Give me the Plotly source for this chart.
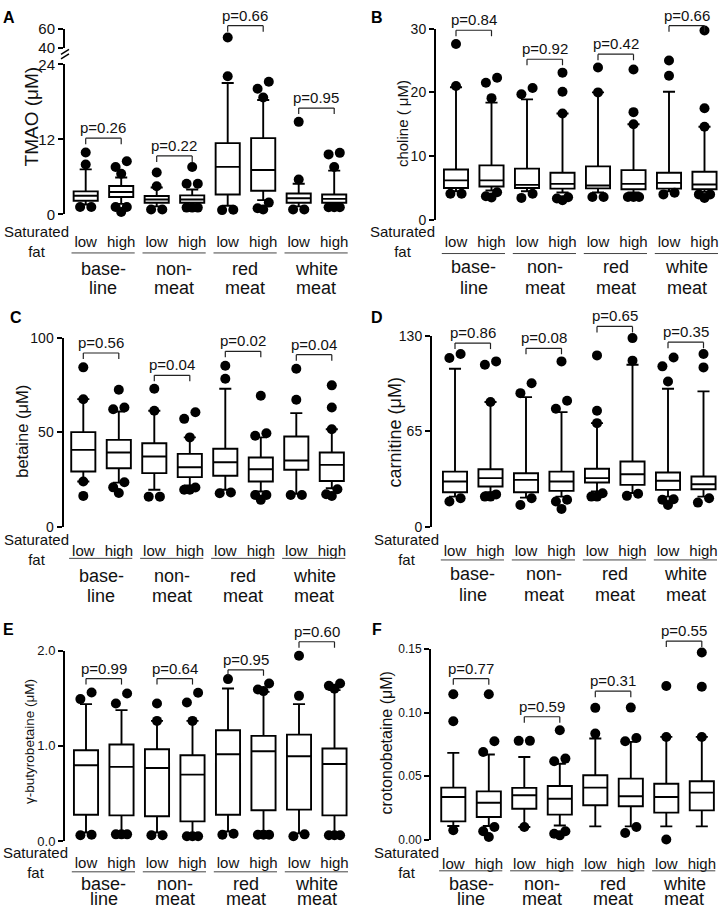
import plotly.graph_objects as go

W, H = 723, 915
FONT = "Liberation Sans, Arial, Helvetica, sans-serif"
STEP = 35.5  # px between neighbouring boxes

# the photographed page is squeezed vertically: picture_y = SQ * page_y + SQ_OFF
SQ, SQ_OFF = 0.9801, 8.09

FAT_LABELS = ["low", "high", "low", "high", "low", "high", "low", "high"]
DIET_TOP = ["base-", "non-", "red", "white"]
DIET_BOTTOM = ["line", "meat", "meat", "meat"]

# ---------------- Panel A : TMAO ----------------
A_q1 = [2.2, 2.8, 1.87, 1.87, 3.2, 3.8, 1.87, 1.87]
A_med = [3.0, 3.6, 2.4, 2.4, 7.6, 7.1, 2.6, 2.5]
A_q3 = [3.7, 4.55, 2.95, 3.05, 11.4, 12.2, 3.35, 3.2]
A_lo = [1.6, 1.7, 1.3, 1.5, 1.4, 2.3, 1.3, 1.5]
A_hi = [7.2, 5.9, 4.3, 4.0, 21.0, 18.3, 4.9, 7.0]
A_out = [[9.9, 8.0, 1.2, 1.2], [8.5, 7.6, 6.5, 1.2, 0.4, 1.2], [6.7, 4.5, 0.8, 0.8],
         [7.6, 4.9, 4.9, 1.1, 1.1, 1.1], [51.0, 22.1, 0.7, 0.75], [21.2, 20.1, 18.7, 1.9, 0.8, 1.0],
         [14.8, 5.6, 0.8, 0.8], [9.85, 9.6, 7.6, 1.15, 1.15, 1.15]]
A_p = ["p=0.26", "p=0.22", "p=0.66", "p=0.95"]
A_p_y = [12.2, 9.35, 66.0, 17.0]
A_ticks = [0, 12, 24]
A_ticks_upper = [40, 60]

# ---------------- Panel B : choline ----------------
B_q1 = [5.0, 5.25, 5.0, 4.9, 4.95, 4.8, 4.9, 4.8]
B_med = [6.2, 6.2, 5.5, 5.65, 5.4, 5.65, 5.8, 5.55]
B_q3 = [7.9, 8.55, 8.05, 7.4, 8.4, 7.8, 7.4, 7.55]
B_lo = [4.5, 4.6, 4.5, 4.3, 4.3, 4.3, 4.5, 4.4]
B_hi = [20.8, 18.4, 18.9, 16.7, 20.0, 15.0, 20.1, 14.6]
B_out = [[27.6, 21.0, 4.1, 4.1], [22.3, 21.5, 19.1, 4.35, 3.5, 3.7], [20.7, 19.7, 4.1, 3.45],
         [23.1, 20.1, 16.7, 3.55, 3.1, 3.35], [23.9, 20.0, 3.6, 3.6], [23.6, 16.9, 15.0, 3.6, 3.6, 3.6],
         [25.0, 22.6, 4.0, 4.25], [29.7, 17.5, 14.6, 4.0, 3.45, 4.0]]
B_p = ["p=0.84", "p=0.92", "p=0.42", "p=0.66"]
B_p_y = [29.75, 25.2, 26.0, 31.7]
B_ticks = [0, 10, 20, 30]

# ---------------- Panel C : betaine ----------------
C_q1 = [29.4, 31.1, 28.5, 26.4, 27.1, 24.1, 30.3, 24.4]
C_med = [40.8, 39.4, 37.3, 31.6, 34.3, 30.6, 35.2, 32.9]
C_q3 = [50.2, 46.1, 44.3, 38.7, 41.4, 36.8, 47.9, 39.4]
C_lo = [24.1, 23.5, 19.7, 22.0, 19.7, 18.8, 17.6, 20.5]
C_hi = [67.6, 61.1, 61.5, 47.4, 73.1, 47.4, 60.2, 51.7]
C_out = [[84.4, 67.6, 24.1, 16.5], [72.6, 63.2, 62.3, 23.7, 21.0, 18.0], [73.1, 61.5, 16.1, 16.1],
         [60.7, 57.2, 47.4, 20.9, 19.7, 19.7], [85.3, 78.4, 17.9, 18.3], [69.4, 49.6, 48.3, 17.0, 14.4, 17.0],
         [83.7, 67.3, 17.0, 17.0], [74.9, 63.2, 51.7, 20.0, 16.5, 17.4]]
C_p = ["p=0.56", "p=0.04", "p=0.02", "p=0.04"]
C_p_y = [92.0, 80.2, 92.9, 91.1]
C_ticks = [0, 50, 100]

# ---------------- Panel D : carnitine ----------------
D_q1 = [23.5, 27.4, 23.5, 24.4, 30.1, 28.5, 25.1, 25.5]
D_med = [30.8, 33.1, 31.9, 30.8, 33.1, 35.8, 31.3, 28.9]
D_q3 = [37.6, 39.2, 36.5, 37.6, 39.5, 44.5, 37.0, 34.2]
D_lo = [20.5, 23.5, 19.8, 20.5, 24.0, 23.0, 20.5, 20.5]
D_hi = [107.9, 85.1, 88.5, 78.2, 70.7, 110.6, 94.2, 92.4]
D_out = [[117.9, 115.2, 17.1, 19.4], [112.9, 110.6, 85.1, 22.0, 20.5, 20.5], [98.0, 91.2, 14.8, 19.4],
         [112.9, 86.0, 80.5, 18.3, 12.1, 17.1], [117.0, 79.2, 70.7, 22.8, 20.5, 20.5],
         [128.8, 113.4, 22.4, 21.0], [115.6, 109.5, 99.2, 18.7, 14.8, 18.3], [117.9, 108.8, 19.4, 16.4]]
D_p = ["p=0.86", "p=0.08", "p=0.65", "p=0.35"]
D_p_y = [125.4, 121.8, 136.8, 126.0]
D_ticks = [0, 65, 130]

# ---------------- Panel E : gamma-butyrobetaine ----------------
E_q1 = [0.277, 0.27, 0.26, 0.207, 0.277, 0.323, 0.33, 0.27]
E_med = [0.797, 0.779, 0.768, 0.698, 0.912, 0.944, 0.891, 0.81]
E_q3 = [0.955, 1.014, 0.965, 0.902, 1.165, 1.105, 1.119, 0.972]
E_lo = [0.09, 0.1, 0.09, 0.08, 0.1, 0.1, 0.08, 0.09]
E_hi = [1.439, 1.376, 1.263, 1.263, 1.603, 1.568, 1.439, 1.586]
E_out = [[1.561, 1.492, 0.06, 0.066], [1.551, 1.445, 0.07, 0.07, 0.07], [1.445, 1.263, 0.06, 0.06],
         [1.558, 1.456, 1.263, 0.05, 0.05, 0.05], [1.702, 0.066, 0.077],
         [1.656, 1.593, 1.576, 0.066, 0.066, 0.066], [1.947, 1.526, 0.05, 0.07],
         [1.656, 1.632, 1.6, 0.06, 0.06, 0.06]]
E_p = ["p=0.99", "p=0.64", "p=0.95", "p=0.60"]
E_p_y = [1.708, 1.708, 1.80, 2.095]
E_ticks = [0.0, 1.0, 2.0]

# ---------------- Panel F : crotonobetaine ----------------
F_q1 = [0.0143, 0.0178, 0.0243, 0.0196, 0.027, 0.0262, 0.0212, 0.023]
F_med = [0.0335, 0.029, 0.0349, 0.0322, 0.0409, 0.0341, 0.0335, 0.037]
F_q3 = [0.0409, 0.038, 0.0407, 0.0422, 0.0507, 0.048, 0.044, 0.046]
F_lo = [0.0107, 0.0107, 0.0099, 0.011, 0.0104, 0.0104, 0.0104, 0.0104]
F_hi = [0.0683, 0.067, 0.0651, 0.0598, 0.0796, 0.077, 0.0809, 0.0809]
F_out = [[0.1146, 0.0933, 0.0073], [0.1146, 0.0775, 0.069, 0.0099, 0.002, 0.0065], [0.0778, 0.0778, 0.0099],
         [0.0862, 0.0638, 0.0617, 0.0065, 0.0033, 0.0046], [0.1038, 0.0835],
         [0.104, 0.0801, 0.0775, 0.0099, 0.0051], [0.121, 0.0809, 0.0], [0.1475, 0.1204, 0.0809]]
F_p = ["p=0.77", "p=0.59", "p=0.31", "p=0.55"]
F_p_y = [0.1268, 0.0968, 0.117, 0.1565]
F_ticks = [0.0, 0.05, 0.10, 0.15]

# ---------------- per panel layout (target picture pixels) ----------------
PANELS = [
    dict(letter="A", q1=A_q1, med=A_med, q3=A_q3, lo=A_lo, hi=A_hi, out=A_out, p=A_p, py=A_p_y,
         ticks=A_ticks, ticktext=[str(v) for v in A_ticks], ymax=24, title="TMAO (μM)",
         x_ax=65, c0=85.7, y0=213.3, ytop=63.3, tick_size=15, title_xy=(31.7, 115.7), title_size=19,
         letter_xy=(9.2, 10.5), lab_dy=26.7, ul_dy=38.4, g1_dy=53.4, g2_dy=71.7, sat_x=36.7),
    dict(letter="B", q1=B_q1, med=B_med, q3=B_q3, lo=B_lo, hi=B_hi, out=B_out, p=B_p, py=B_p_y,
         ticks=B_ticks, ticktext=[str(v) for v in B_ticks], ymax=30, title="choline ( μM)",
         x_ax=436, c0=456, y0=218.7, ytop=27.7, tick_size=14, title_xy=(402.7, 122.3), title_size=15,
         letter_xy=(377, 10.5), lab_dy=21.5, ul_dy=33.6, g1_dy=46.3, g2_dy=66.3, sat_x=402),
    dict(letter="C", q1=C_q1, med=C_med, q3=C_q3, lo=C_lo, hi=C_hi, out=C_out, p=C_p, py=C_p_y,
         ticks=C_ticks, ticktext=[str(v) for v in C_ticks], ymax=100, title="betaine (μM)",
         x_ax=63.5, c0=83.3, y0=525.5, ytop=336.5, tick_size=14, title_xy=(22.3, 430), title_size=16.5,
         letter_xy=(16, 316), lab_dy=22.8, ul_dy=31.2, g1_dy=47.8, g2_dy=67.8, sat_x=36.7),
    dict(letter="D", q1=D_q1, med=D_med, q3=D_q3, lo=D_lo, hi=D_hi, out=D_out, p=D_p, py=D_p_y,
         ticks=D_ticks, ticktext=[str(v) for v in D_ticks], ymax=130, title="carnitine (μM)",
         x_ax=432, c0=455, y0=525, ytop=335, tick_size=14, title_xy=(395.3, 430.7), title_size=18,
         letter_xy=(377, 316), lab_dy=23.3, ul_dy=33.3, g1_dy=46.7, g2_dy=66.7, sat_x=406),
    dict(letter="E", q1=E_q1, med=E_med, q3=E_q3, lo=E_lo, hi=E_hi, out=E_out, p=E_p, py=E_p_y,
         ticks=E_ticks, ticktext=["%.1f" % v for v in E_ticks], ymax=2.0, title="γ-butyrobetaine (μM)",
         x_ax=65, c0=86, y0=839, ytop=649, tick_size=13, title_xy=(30, 740), title_size=13.5,
         letter_xy=(8.3, 628), lab_dy=22.7, ul_dy=33.7, g1_dy=47.7, g2_dy=66, sat_x=35),
    dict(letter="F", q1=F_q1, med=F_med, q3=F_q3, lo=F_lo, hi=F_hi, out=F_out, p=F_p, py=F_p_y,
         ticks=F_ticks, ticktext=["%.2f" % v for v in F_ticks], ymax=0.15, title="crotonobetaine (μM)",
         x_ax=431, c0=453.3, y0=837.5, ytop=647.5, tick_size=12, title_xy=(387, 740.7), title_size=16,
         letter_xy=(377, 628), lab_dy=24.2, ul_dy=34.2, g1_dy=49.2, g2_dy=67.5, sat_x=406),
]

# upper segment of the broken TMAO axis
A_UPPER = dict(y0=46.7, ytop=28.3)
A_BREAK = 24

THR_PX = 11.0
DX_PX = 5.6
MIN_BRACKET = 17.0   # page px: keep p-value texts inside the page
MAX_LINE2 = 906.0    # page px: keep bottom labels inside the page


def Y(pic_y):
    """target picture y -> page y"""
    return (pic_y - SQ_OFF) / SQ


def D(pic_d):
    return pic_d / SQ


def spread(values, px_per_unit):
    """side-by-side placement of outlier dots that would overlap"""
    vals = sorted(values)
    clusters = []
    for v in vals:
        if clusters and (v - clusters[-1][-1]) * px_per_unit < THR_PX:
            clusters[-1].append(v)
        else:
            clusters.append([v])
    res = []
    d = DX_PX / STEP
    for c in clusters:
        n = len(c)
        if n == 1:
            res.append((0.0, c[0]))
        elif n == 2:
            res += [(-d, c[0]), (d, c[1])]
        elif n == 3:
            res += [(0.0, c[0]), (-d, c[1]), (d, c[2])]
        else:
            for k, v in enumerate(c):
                res.append((-d + 2 * d * k / (n - 1), v))
    return res


def pp(page_y):
    return 1 - page_y / H


fig = go.Figure()
layout = dict(width=W, height=H, margin=dict(l=0, r=0, t=0, b=0), showlegend=False,
              plot_bgcolor="white", paper_bgcolor="white",
              font=dict(family=FONT, color="#111"))
annotations = []
shapes = []

for i, P in enumerate(PANELS):
    n = i + 1
    xid = "x" if n == 1 else "x%d" % n
    yid = "y" if n == 1 else "y%d" % n
    xkey = "xaxis" if n == 1 else "xaxis%d" % n
    ykey = "yaxis" if n == 1 else "yaxis%d" % n
    y0, ytop = Y(P["y0"]), Y(P["ytop"])
    dom_px = y0 - ytop

    # vertical offsets below the zero line (page px), squeezed at the page bottom if needed
    lab, ul, g1, g2 = D(P["lab_dy"]), D(P["ul_dy"]), D(P["g1_dy"]), D(P["g2_dy"])
    excess = max(0.0, y0 + g2 - MAX_LINE2)
    g2 -= excess
    g1 -= excess * 0.66
    ul -= excess * 0.33
    lab -= excess * 0.16

    x_right = P["c0"] + 7.45 * STEP
    r0 = -(P["c0"] - P["x_ax"]) / STEP
    r1 = r0 + (x_right - P["x_ax"]) / STEP
    layout[xkey] = dict(domain=[P["x_ax"] / W, x_right / W], range=[r0, r1], anchor=yid,
                        tickmode="array", tickvals=list(range(8)), ticktext=FAT_LABELS,
                        showline=False, ticks="", showgrid=False, zeroline=False,
                        tickfont=dict(size=15, color="#111"),
                        ticklabelstandoff=int(round(lab - 10.5)))
    layout[ykey] = dict(domain=[pp(y0), pp(ytop)], range=[0, P["ymax"]], anchor=xid,
                        showline=True, linewidth=2, linecolor="black", ticks="outside", ticklen=5,
                        tickwidth=2, tickcolor="black", tickmode="array", tickvals=P["ticks"],
                        ticktext=P["ticktext"], showgrid=False, zeroline=False,
                        tickfont=dict(size=P["tick_size"], color="#111"))
    ppu = dom_px / P["ymax"]

    fig.add_trace(go.Box(x=list(range(8)), q1=P["q1"], median=P["med"], q3=P["q3"],
                         lowerfence=P["lo"], upperfence=P["hi"], xaxis=xid, yaxis=yid,
                         width=0.68, whiskerwidth=0.5, fillcolor="white",
                         line=dict(color="black", width=1.9), boxpoints=False, hoverinfo="skip"))

    ox, oy, ux, uy = [], [], [], []
    for k, vals in enumerate(P["out"]):
        low_vals = [v for v in vals if not (P["letter"] == "A" and v > A_BREAK)]
        up_vals = [v for v in vals if P["letter"] == "A" and v > A_BREAK]
        for off, v in spread(low_vals, ppu):
            ox.append(k + off)
            oy.append(v)
        for off, v in spread(up_vals, 1.0):
            ux.append(k + off)
            uy.append(v)
    fig.add_trace(go.Scatter(x=ox, y=oy, mode="markers", xaxis=xid, yaxis=yid, cliponaxis=False,
                             marker=dict(size=10, color="black"), hoverinfo="skip"))

    if P["letter"] == "A":
        uy0, uytop = Y(A_UPPER["y0"]), Y(A_UPPER["ytop"])
        layout["yaxis7"] = dict(domain=[pp(uy0), pp(uytop)],
                                range=[A_ticks_upper[0], A_ticks_upper[-1]], anchor="x",
                                showline=True, linewidth=2, linecolor="black", ticks="outside",
                                ticklen=5, tickwidth=2, tickcolor="black", tickmode="array",
                                tickvals=A_ticks_upper, ticktext=[str(v) for v in A_ticks_upper],
                                showgrid=False, zeroline=False,
                                tickfont=dict(size=P["tick_size"], color="#111"))
        fig.add_trace(go.Scatter(x=ux, y=uy, mode="markers", xaxis="x", yaxis="y7", cliponaxis=False,
                                 marker=dict(size=10, color="black"), hoverinfo="skip"))
        # axis break marks
        for dy in (0, 4.5):
            shapes.append(dict(type="line", xref="paper", yref="paper",
                               x0=(P["x_ax"] - 4) / W, x1=(P["x_ax"] + 4) / W,
                               y0=pp(Y(58 - dy)), y1=pp(Y(53 - dy)),
                               line=dict(color="black", width=1.5)))

    # p-value brackets
    for g in range(4):
        h = P["py"][g]
        if P["letter"] == "A" and h > A_BREAK:
            by, lo_v, hi_v = "y7", A_ticks_upper[0], A_ticks_upper[-1]
            b_y0, b_top = Y(A_UPPER["y0"]), Y(A_UPPER["ytop"])
        else:
            by, lo_v, hi_v = yid, 0, P["ymax"]
            b_y0, b_top = y0, ytop
        bpx = b_y0 - b_top
        f = (h - lo_v) / (hi_v - lo_v)
        page_y = b_y0 - f * bpx
        if page_y < MIN_BRACKET:
            f = (b_y0 - MIN_BRACKET) / bpx
        drop = D(6.0) / bpx
        lstyle = dict(color="#222", width=1.2)
        shapes.append(dict(type="line", xref=xid, yref=by + " domain", x0=2 * g, x1=2 * g + 1,
                           y0=f, y1=f, line=lstyle))
        for xx in (2 * g, 2 * g + 1):
            shapes.append(dict(type="line", xref=xid, yref=by + " domain", x0=xx, x1=xx,
                               y0=f - drop, y1=f, line=lstyle))
        annotations.append(dict(xref=xid, yref=by + " domain", x=2 * g + 0.5, y=f, text=P["p"][g],
                                showarrow=False, yanchor="bottom", xanchor="center", yshift=0,
                                font=dict(size=15, color="#111")))
        # group underline and names
        shapes.append(dict(type="line", xref=xid, yref=yid + " domain", x0=2 * g - 0.4, x1=2 * g + 1.38,
                           y0=-ul / dom_px, y1=-ul / dom_px,
                           line=dict(color="#444", width=1)))
        annotations.append(dict(xref=xid, yref=yid + " domain", x=2 * g + 0.5, y=0, yshift=-g1,
                                text=DIET_TOP[g], showarrow=False, yanchor="middle",
                                font=dict(size=18, color="#111")))
        annotations.append(dict(xref=xid, yref=yid + " domain", x=2 * g + 0.5, y=0, yshift=-g2,
                                text=DIET_BOTTOM[g], showarrow=False, yanchor="middle",
                                font=dict(size=18, color="#111")))

    annotations.append(dict(xref="paper", yref="paper", x=P["sat_x"] / W, y=pp(y0 + lab),
                            text="Saturated<br>fat", showarrow=False, xanchor="center", yanchor="middle",
                            font=dict(size=15, color="#111")))
    annotations.append(dict(xref="paper", yref="paper", x=P["title_xy"][0] / W, y=pp(Y(P["title_xy"][1])),
                            text=P["title"], textangle=-90, showarrow=False, xanchor="center",
                            yanchor="middle", font=dict(size=P["title_size"], color="#111")))
    annotations.append(dict(xref="paper", yref="paper", x=P["letter_xy"][0] / W,
                            y=pp(max(Y(P["letter_xy"][1]), 8.5)),
                            text="<b>%s</b>" % P["letter"], showarrow=False, xanchor="center",
                            yanchor="middle", font=dict(size=16, color="black")))

layout["annotations"] = annotations
layout["shapes"] = shapes
fig.update_layout(**layout)

PAGE_FIX = ("var d=document.getElementById('{plot_id}');"
            "var r=document.documentElement, b=document.body;"
            "r.style.margin='0';r.style.padding='0';r.style.overflow='hidden';"
            "b.style.margin='0';b.style.padding='0';b.style.overflow='hidden';"
            "if(d){d.style.position='absolute';d.style.left='0px';d.style.top='0px';}")
fig.write_html("out.html", config={"displayModeBar": False}, post_script=PAGE_FIX)
